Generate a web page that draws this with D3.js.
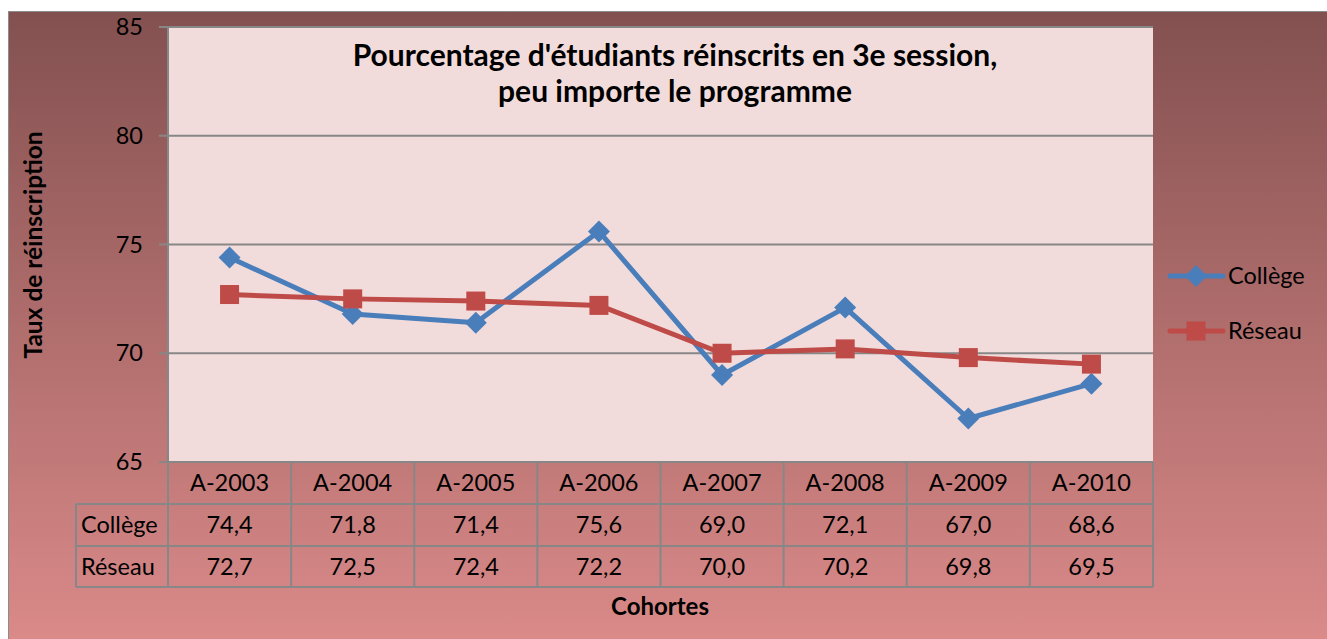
<!DOCTYPE html>
<html><head><meta charset="utf-8">
<script src="https://cdn.jsdelivr.net/npm/d3@7"></script>
<style>body{margin:0;background:#fff;}svg{display:block;font-family:Lato, "Open Sans", sans-serif;}</style>
</head><body>
<svg id="c" width="1327" height="639"></svg>
<script>
const categories = ["A-2003","A-2004","A-2005","A-2006","A-2007","A-2008","A-2009","A-2010"];
const college = [74.4,71.8,71.4,75.6,69.0,72.1,67.0,68.6];
const reseau = [72.7,72.5,72.4,72.2,70.0,70.2,69.8,69.5];
const seriesNames = ["Collège","Réseau"];
const yTicks = [65,70,75,80,85];
const titleLines = ["Pourcentage d'étudiants réinscrits en 3e session,","peu importe le programme"];
const yTitle = "Taux de réinscription";
const xTitle = "Cohortes";

const svg = d3.select("#c");
const defs = svg.append("defs");
const g = defs.append("linearGradient").attr("id","bg").attr("x1",0).attr("y1",0).attr("x2",0).attr("y2",1);
g.append("stop").attr("offset","0%").attr("stop-color","#835050");
g.append("stop").attr("offset","50%").attr("stop-color","#b06e6d");
g.append("stop").attr("offset","100%").attr("stop-color","#db8b8a");
svg.append("rect").attr("x",8.5).attr("y",11.5).attr("width",1330).attr("height",640)
  .attr("fill","url(#bg)").attr("stroke","#8c8c8c").attr("stroke-width",1);

const L=168, R=1153, T=27, B=462;
const FS = 23.5;
const x = d3.scaleBand().domain(categories).range([L,R]);
const y = d3.scaleLinear().domain([65,85]).range([B,T]);

svg.append("rect").attr("x",L).attr("y",T).attr("width",R-L).attr("height",B-T).attr("fill","#f2dcdb");

svg.append("g").selectAll("line").data(yTicks).join("line")
  .attr("x1",159).attr("x2",R).attr("y1",d=>y(d)).attr("y2",d=>y(d))
  .attr("stroke","#878787").attr("stroke-width",2);
svg.append("line").attr("x1",L).attr("x2",L).attr("y1",T).attr("y2",B).attr("stroke","#878787").attr("stroke-width",2);
svg.append("g").selectAll("text").data(yTicks).join("text")
  .attr("x",143).attr("y",d=>y(d)).attr("dy","0.35em").attr("text-anchor","end")
  .attr("font-size",FS).attr("fill","#000").text(d=>d);

svg.append("g").selectAll("text").data(titleLines).join("text")
  .attr("x",675).attr("y",(d,i)=>66+i*36).attr("text-anchor","middle")
  .attr("font-size",30).attr("font-weight","bold").attr("fill","#000").text(d=>d);

const series = [{name:seriesNames[0], vals:college, color:"#4a7ebb", shape:"diamond"},
                {name:seriesNames[1], vals:reseau, color:"#be4b48", shape:"square"}];
const line = d3.line().x((d,i)=>x(categories[i])+x.bandwidth()/2).y(d=>y(d));
function marker(sel, s, cx, cy){
  if(s.shape==="diamond"){
    sel.append("path").attr("d",`M${cx},${cy-11}L${cx+11},${cy}L${cx},${cy+11}L${cx-11},${cy}Z`).attr("fill",s.color);
  } else {
    sel.append("rect").attr("x",cx-9.5).attr("y",cy-9.5).attr("width",19).attr("height",19).attr("fill",s.color);
  }
}
series.forEach(s=>{
  const gg = svg.append("g");
  gg.append("path").datum(s.vals).attr("d",line).attr("fill","none").attr("stroke",s.color)
    .attr("stroke-width",5).attr("stroke-linejoin","round");
  s.vals.forEach((v,i)=>marker(gg,s,x(categories[i])+x.bandwidth()/2,y(v)));
});

series.forEach((s,i)=>{
  const ly = 276 + i*55;
  const gg = svg.append("g");
  gg.append("line").attr("x1",1170).attr("x2",1223).attr("y1",ly).attr("y2",ly).attr("stroke",s.color).attr("stroke-width",5).attr("stroke-linecap","round");
  marker(gg,s,1196,ly);
  gg.append("text").attr("x",1228).attr("y",ly).attr("dy","0.35em").attr("font-size",FS).attr("fill","#000").text(s.name);
});

const rowT = [462,504,546,587];
const tbl = svg.append("g").attr("stroke","#878787").attr("stroke-width",2);
tbl.append("line").attr("x1",L).attr("x2",R).attr("y1",rowT[0]).attr("y2",rowT[0]);
[1,2,3].forEach(k=>tbl.append("line").attr("x1",76).attr("x2",R).attr("y1",rowT[k]).attr("y2",rowT[k]));
categories.forEach(c=>tbl.append("line").attr("x1",x(c)).attr("x2",x(c)).attr("y1",rowT[0]).attr("y2",rowT[3]));
tbl.append("line").attr("x1",R).attr("x2",R).attr("y1",rowT[0]).attr("y2",rowT[3]);
tbl.append("line").attr("x1",76).attr("x2",76).attr("y1",rowT[1]).attr("y2",rowT[3]);

const fmt = v=>d3.format(".1f")(v).replace(".",",");
svg.append("g").selectAll("text").data(categories).join("text")
  .attr("x",d=>x(d)+x.bandwidth()/2).attr("y",(rowT[0]+rowT[1])/2).attr("dy","0.35em")
  .attr("text-anchor","middle").attr("font-size",FS).text(d=>d);
series.forEach((s,k)=>{
  const cy = (rowT[k+1]+rowT[k+2])/2;
  svg.append("text").attr("x",81).attr("y",cy).attr("dy","0.35em").attr("font-size",FS).text(s.name);
  svg.append("g").selectAll("text").data(s.vals).join("text")
    .attr("x",(d,i)=>x(categories[i])+x.bandwidth()/2).attr("y",cy).attr("dy","0.35em")
    .attr("text-anchor","middle").attr("font-size",FS).text(d=>fmt(d));
});

svg.append("text").attr("x",660).attr("y",607).attr("dy","0.35em").attr("text-anchor","middle")
  .attr("font-size",24).attr("font-weight","bold").text(xTitle);
svg.append("text").attr("transform","translate(33,245) rotate(-90)").attr("dy","0.35em").attr("text-anchor","middle")
  .attr("font-size",24.5).attr("font-weight","bold").text(yTitle);
</script>
</body></html>
